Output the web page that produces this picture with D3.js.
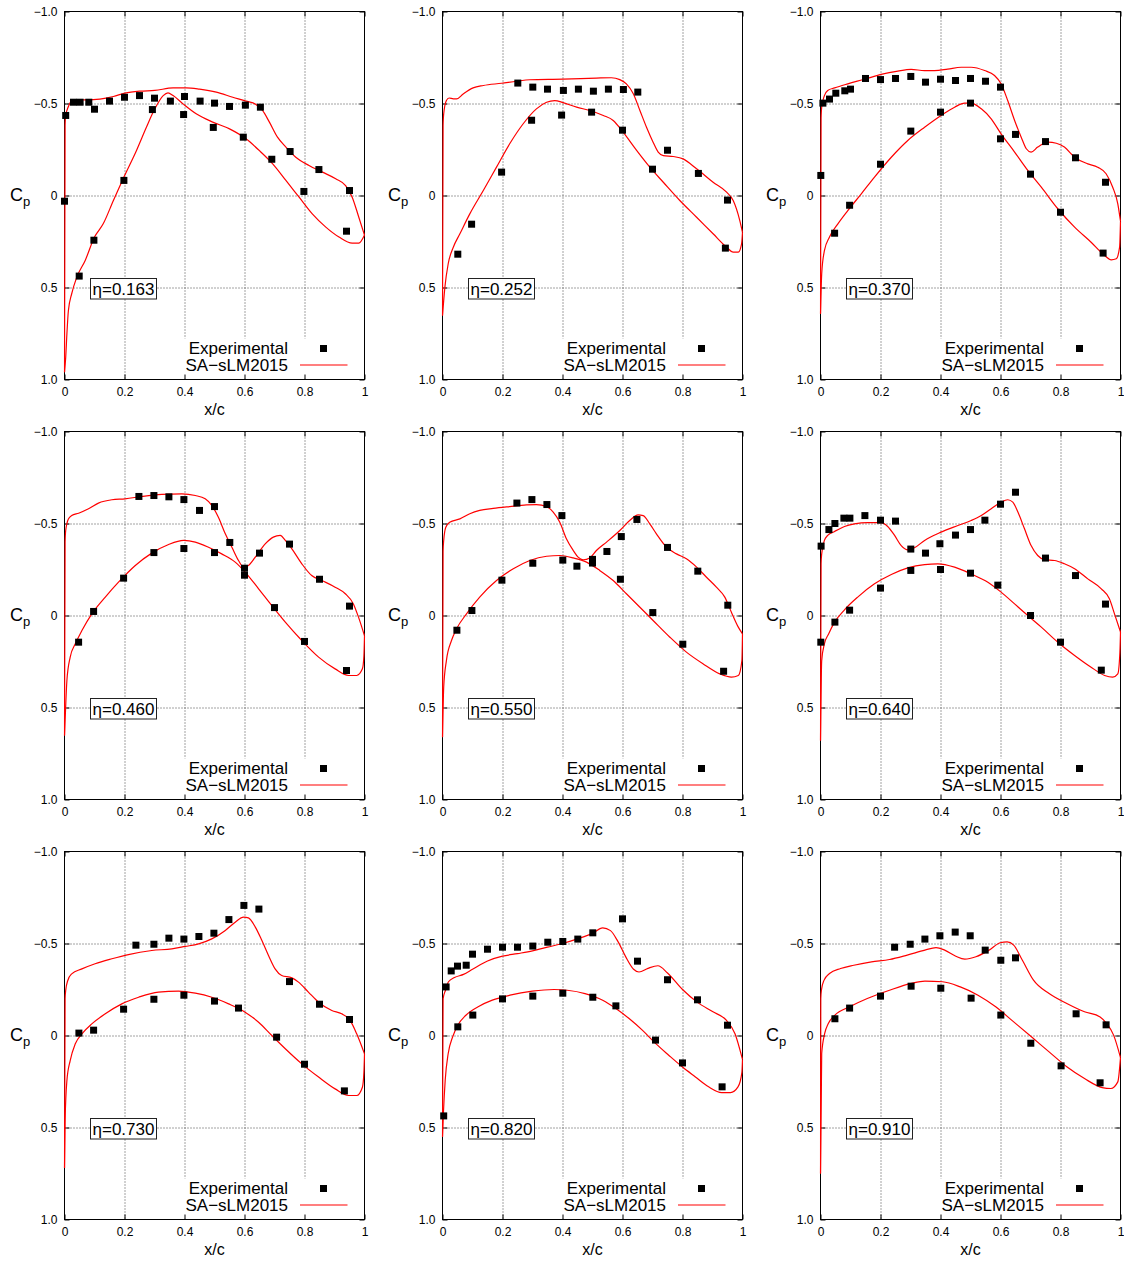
<!DOCTYPE html>
<html>
<head>
<meta charset="utf-8">
<script src="https://cdn.jsdelivr.net/npm/d3@7"></script>
<style>
  body { margin: 0; background: #fff; }
  svg { display: block; }
  text { font-family: "Liberation Sans", Arial, Helvetica, sans-serif; fill: #000; }
</style>
</head>
<body>
<svg id="chart" width="1124" height="1261"></svg>
<script>
// ---- Axis ticks and labels ----
const xTicks = [0, 0.2, 0.4, 0.6, 0.8, 1];
const xTickLabels = ["0", "0.2", "0.4", "0.6", "0.8", "1"];
const yTicks = [-1, -0.5, 0, 0.5, 1];
const yTickLabels = ["\u22121.0", "\u22120.5", "0", "0.5", "1.0"];
const xGrid = [0.2, 0.4, 0.6, 0.8];
const yGrid = [-0.5, 0, 0.5];
const legendLabels = ["Experimental", "SA\u2212sLM2015"];
const etaLabels = ["\u03b7=0.163", "\u03b7=0.252", "\u03b7=0.370", "\u03b7=0.460", "\u03b7=0.550",
                   "\u03b7=0.640", "\u03b7=0.730", "\u03b7=0.820", "\u03b7=0.910"];

// ---- eta = 0.163 ----
const exp163 = [[0.004,-0.435],[0.03,-0.507],[0.052,-0.507],[0.081,-0.507],[0.10,-0.469],[0.15,-0.513],[0.20,-0.534],[0.25,-0.543],[0.30,-0.529],[0.353,-0.513],[0.40,-0.538],[0.452,-0.513],[0.50,-0.502],[0.55,-0.484],[0.603,-0.491],[0.653,-0.48],[0.752,-0.239],[0.848,-0.141],[0.95,-0.027],
  [0.0,0.031],[0.049,0.438],[0.098,0.243],[0.198,-0.082],[0.293,-0.467],[0.397,-0.44],[0.496,-0.37],[0.596,-0.317],[0.691,-0.197],[0.798,-0.022],[0.94,0.194]];
const upper163 = [[0,0.96],[0.002,-0.38],[0.004,-0.435],[0.013,-0.484],[0.024,-0.513],[0.046,-0.52],[0.074,-0.52],[0.118,-0.524],[0.163,-0.538],[0.201,-0.556],[0.251,-0.567],[0.301,-0.571],[0.362,-0.585],[0.406,-0.585],[0.45,-0.578],[0.506,-0.562],[0.561,-0.534],[0.605,-0.513],[0.638,-0.495],[0.66,-0.462],[0.683,-0.399],[0.71,-0.317],[0.738,-0.263],[0.771,-0.208],[0.815,-0.163],[0.86,-0.127],[0.904,-0.091],[0.937,-0.054],[0.959,0.009],[0.981,0.118],[1.0,0.215]];
const lower163 = [[0,0.96],[0.004,0.88],[0.008,0.752],[0.013,0.625],[0.024,0.534],[0.041,0.444],[0.069,0.353],[0.1,0.226],[0.129,0.154],[0.163,0.027],[0.198,-0.1],[0.24,-0.245],[0.273,-0.371],[0.301,-0.471],[0.329,-0.543],[0.345,-0.558],[0.362,-0.543],[0.395,-0.498],[0.439,-0.444],[0.494,-0.399],[0.55,-0.362],[0.605,-0.308],[0.649,-0.245],[0.694,-0.172],[0.738,-0.082],[0.782,0.009],[0.826,0.1],[0.871,0.172],[0.915,0.226],[0.959,0.259],[0.981,0.259],[1.0,0.215]];

// ---- eta = 0.252 ----
const exp252 = [[0.251,-0.611],[0.301,-0.589],[0.35,-0.578],[0.403,-0.571],[0.453,-0.578],[0.503,-0.567],[0.553,-0.578],[0.603,-0.576],[0.651,-0.562],[0.75,-0.246],[0.853,-0.12],[0.95,0.025],
  [0.051,0.319],[0.097,0.156],[0.197,-0.127],[0.297,-0.409],[0.397,-0.437],[0.497,-0.453],[0.60,-0.355],[0.70,-0.143],[0.943,0.286]];
const upper252 = [[0,0.652],[0.002,-0.38],[0.004,-0.444],[0.013,-0.516],[0.022,-0.53],[0.036,-0.525],[0.047,-0.525],[0.069,-0.552],[0.102,-0.585],[0.136,-0.598],[0.197,-0.61],[0.247,-0.621],[0.291,-0.629],[0.402,-0.632],[0.513,-0.638],[0.563,-0.64],[0.591,-0.63],[0.613,-0.607],[0.636,-0.553],[0.658,-0.462],[0.680,-0.371],[0.702,-0.29],[0.719,-0.236],[0.736,-0.217],[0.769,-0.212],[0.802,-0.199],[0.847,-0.145],[0.902,-0.072],[0.947,-0.018],[0.969,0.027],[0.991,0.136],[1.0,0.2]];
const lower252 = [[0,0.652],[0.008,0.498],[0.019,0.371],[0.036,0.281],[0.058,0.208],[0.091,0.1],[0.136,-0.027],[0.18,-0.154],[0.224,-0.281],[0.269,-0.39],[0.313,-0.471],[0.347,-0.507],[0.374,-0.516],[0.402,-0.505],[0.447,-0.48],[0.491,-0.462],[0.536,-0.435],[0.569,-0.408],[0.602,-0.344],[0.647,-0.245],[0.691,-0.154],[0.736,-0.072],[0.791,0.027],[0.847,0.118],[0.902,0.208],[0.947,0.281],[0.969,0.308],[0.986,0.308],[0.997,0.263],[1.0,0.2]];

// ---- eta = 0.370 ----
const exp370 = [[0.008,-0.502],[0.03,-0.524],[0.051,-0.556],[0.081,-0.569],[0.10,-0.578],[0.15,-0.636],[0.20,-0.63],[0.25,-0.636],[0.301,-0.647],[0.35,-0.616],[0.40,-0.632],[0.45,-0.625],[0.50,-0.636],[0.55,-0.621],[0.60,-0.589],[0.65,-0.332],[0.75,-0.293],[0.85,-0.205],[0.95,-0.072],
  [0.001,-0.109],[0.047,0.205],[0.097,0.053],[0.20,-0.17],[0.301,-0.35],[0.40,-0.453],[0.50,-0.502],[0.60,-0.308],[0.70,-0.116],[0.80,0.091],[0.942,0.313]];
const upper370 = [[0,0.643],[0.002,-0.42],[0.004,-0.48],[0.013,-0.543],[0.024,-0.571],[0.047,-0.585],[0.091,-0.607],[0.147,-0.632],[0.202,-0.658],[0.258,-0.676],[0.302,-0.685],[0.347,-0.679],[0.38,-0.679],[0.424,-0.687],[0.469,-0.697],[0.502,-0.697],[0.547,-0.679],[0.58,-0.652],[0.602,-0.607],[0.624,-0.516],[0.647,-0.408],[0.669,-0.317],[0.686,-0.254],[0.702,-0.236],[0.724,-0.263],[0.758,-0.29],[0.786,-0.284],[0.813,-0.263],[0.847,-0.208],[0.891,-0.172],[0.924,-0.154],[0.952,-0.118],[0.974,-0.045],[0.991,0.045],[1.0,0.14]];
const lower370 = [[0,0.643],[0.004,0.426],[0.013,0.3],[0.03,0.226],[0.058,0.154],[0.091,0.082],[0.136,-0.009],[0.18,-0.1],[0.236,-0.208],[0.291,-0.299],[0.347,-0.371],[0.402,-0.435],[0.447,-0.48],[0.48,-0.502],[0.502,-0.502],[0.536,-0.471],[0.569,-0.417],[0.602,-0.335],[0.647,-0.236],[0.691,-0.136],[0.736,-0.045],[0.791,0.072],[0.847,0.172],[0.902,0.254],[0.947,0.326],[0.969,0.35],[0.986,0.344],[0.997,0.281],[1.0,0.14]];

// ---- eta = 0.460 ----
const exp460 = [[0.248,-0.647],[0.298,-0.652],[0.348,-0.645],[0.398,-0.63],[0.45,-0.571],[0.50,-0.592],[0.551,-0.397],[0.60,-0.257],[0.65,-0.339],[0.75,-0.388],[0.85,-0.197],[0.95,-0.051],
  [0.047,0.145],[0.097,-0.022],[0.197,-0.203],[0.298,-0.342],[0.398,-0.364],[0.50,-0.342],[0.60,-0.219],[0.70,-0.043],[0.80,0.141],[0.94,0.299]];
const upper460 = [[0,0.652],[0.002,-0.4],[0.004,-0.462],[0.013,-0.525],[0.024,-0.543],[0.047,-0.556],[0.08,-0.58],[0.113,-0.611],[0.158,-0.629],[0.202,-0.634],[0.258,-0.647],[0.324,-0.658],[0.391,-0.661],[0.436,-0.652],[0.469,-0.634],[0.491,-0.598],[0.513,-0.534],[0.536,-0.444],[0.558,-0.371],[0.58,-0.299],[0.597,-0.263],[0.613,-0.272],[0.636,-0.317],[0.669,-0.389],[0.696,-0.426],[0.719,-0.435],[0.736,-0.408],[0.758,-0.362],[0.791,-0.281],[0.824,-0.217],[0.858,-0.19],[0.902,-0.154],[0.936,-0.118],[0.963,-0.063],[0.98,0.009],[1.0,0.11]];
const lower460 = [[0,0.652],[0.002,0.571],[0.008,0.353],[0.019,0.226],[0.036,0.154],[0.058,0.082],[0.091,-0.009],[0.136,-0.1],[0.18,-0.181],[0.236,-0.272],[0.291,-0.339],[0.347,-0.386],[0.397,-0.408],[0.436,-0.399],[0.48,-0.371],[0.524,-0.335],[0.569,-0.29],[0.602,-0.236],[0.647,-0.145],[0.691,-0.054],[0.736,0.036],[0.791,0.136],[0.847,0.226],[0.902,0.29],[0.947,0.326],[0.974,0.326],[0.993,0.29],[0.998,0.22],[1.0,0.11]];

// ---- eta = 0.550 ----
const exp550 = [[0.248,-0.611],[0.298,-0.63],[0.348,-0.603],[0.398,-0.543],[0.50,-0.305],[0.548,-0.348],[0.596,-0.429],[0.648,-0.522],[0.75,-0.37],[0.851,-0.241],[0.951,-0.056],
  [0.048,0.08],[0.098,-0.027],[0.198,-0.192],[0.301,-0.284],[0.401,-0.301],[0.448,-0.268],[0.50,-0.285],[0.593,-0.197],[0.701,-0.016],[0.801,0.156],[0.937,0.303]];
const upper550 = [[0,0.661],[0.002,-0.35],[0.004,-0.408],[0.011,-0.48],[0.024,-0.507],[0.058,-0.525],[0.091,-0.553],[0.124,-0.571],[0.169,-0.582],[0.224,-0.592],[0.28,-0.601],[0.313,-0.603],[0.347,-0.592],[0.369,-0.562],[0.391,-0.507],[0.413,-0.417],[0.436,-0.353],[0.452,-0.317],[0.469,-0.303],[0.491,-0.313],[0.513,-0.353],[0.547,-0.399],[0.591,-0.462],[0.624,-0.516],[0.652,-0.547],[0.669,-0.543],[0.691,-0.498],[0.713,-0.444],[0.747,-0.371],[0.78,-0.335],[0.813,-0.308],[0.847,-0.263],[0.88,-0.208],[0.913,-0.154],[0.941,-0.1],[0.963,-0.018],[0.986,0.063],[1.0,0.1]];
const lower550 = [[0,0.661],[0.004,0.39],[0.013,0.245],[0.03,0.136],[0.047,0.072],[0.08,-0.009],[0.124,-0.1],[0.18,-0.19],[0.236,-0.254],[0.291,-0.299],[0.347,-0.322],[0.391,-0.326],[0.436,-0.313],[0.48,-0.29],[0.524,-0.245],[0.569,-0.19],[0.613,-0.118],[0.658,-0.045],[0.702,0.027],[0.758,0.118],[0.813,0.199],[0.869,0.263],[0.924,0.317],[0.963,0.335],[0.986,0.326],[0.998,0.245],[1.0,0.1]];

// ---- eta = 0.640 ----
const exp640 = [[0.002,-0.377],[0.028,-0.467],[0.048,-0.5],[0.078,-0.529],[0.098,-0.529],[0.148,-0.543],[0.20,-0.518],[0.25,-0.513],[0.301,-0.361],[0.35,-0.339],[0.398,-0.39],[0.45,-0.437],[0.50,-0.467],[0.548,-0.518],[0.60,-0.605],[0.65,-0.67],[0.75,-0.312],[0.85,-0.217],[0.95,-0.062],
  [0.001,0.145],[0.048,0.036],[0.097,-0.029],[0.20,-0.149],[0.301,-0.245],[0.40,-0.25],[0.50,-0.23],[0.591,-0.165],[0.70,0.0],[0.80,0.145],[0.936,0.297]];
const upper640 = [[0,0.679],[0.002,-0.28],[0.004,-0.335],[0.013,-0.408],[0.024,-0.435],[0.047,-0.457],[0.08,-0.484],[0.113,-0.498],[0.158,-0.505],[0.202,-0.505],[0.224,-0.484],[0.247,-0.435],[0.269,-0.38],[0.291,-0.357],[0.313,-0.368],[0.347,-0.408],[0.402,-0.453],[0.458,-0.489],[0.502,-0.516],[0.536,-0.543],[0.569,-0.58],[0.602,-0.616],[0.624,-0.629],[0.641,-0.616],[0.658,-0.562],[0.68,-0.471],[0.702,-0.38],[0.724,-0.326],[0.747,-0.303],[0.78,-0.299],[0.813,-0.281],[0.847,-0.254],[0.891,-0.199],[0.936,-0.145],[0.963,-0.091],[0.98,-0.009],[1.0,0.09]];
const lower640 = [[0,0.679],[0.004,0.245],[0.013,0.154],[0.027,0.1],[0.047,0.036],[0.08,-0.031],[0.124,-0.1],[0.18,-0.172],[0.236,-0.223],[0.291,-0.259],[0.347,-0.277],[0.391,-0.281],[0.447,-0.263],[0.502,-0.226],[0.558,-0.181],[0.602,-0.127],[0.647,-0.063],[0.691,0.0],[0.736,0.063],[0.791,0.145],[0.847,0.217],[0.902,0.281],[0.947,0.326],[0.974,0.335],[0.991,0.317],[0.998,0.2],[1.0,0.09]];

// ---- eta = 0.730 ----
const exp730 = [[0.238,-0.491],[0.298,-0.496],[0.348,-0.529],[0.398,-0.524],[0.448,-0.538],[0.498,-0.556],[0.548,-0.63],[0.598,-0.707],[0.648,-0.687],[0.75,-0.293],[0.85,-0.17],[0.95,-0.087],
  [0.048,-0.013],[0.097,-0.029],[0.197,-0.143],[0.298,-0.197],[0.398,-0.219],[0.50,-0.187],[0.58,-0.149],[0.707,0.009],[0.80,0.156],[0.933,0.301]];
const upper730 = [[0,0.72],[0.002,-0.2],[0.004,-0.245],[0.011,-0.299],[0.024,-0.335],[0.058,-0.362],[0.102,-0.39],[0.158,-0.417],[0.213,-0.44],[0.291,-0.462],[0.358,-0.471],[0.402,-0.484],[0.447,-0.498],[0.491,-0.525],[0.536,-0.571],[0.569,-0.616],[0.597,-0.643],[0.613,-0.639],[0.636,-0.589],[0.658,-0.516],[0.680,-0.435],[0.702,-0.362],[0.724,-0.326],[0.758,-0.313],[0.78,-0.29],[0.813,-0.236],[0.847,-0.181],[0.891,-0.136],[0.924,-0.118],[0.952,-0.082],[0.974,-0.009],[1.0,0.1]];
const lower730 = [[0,0.72],[0.002,0.462],[0.008,0.245],[0.019,0.136],[0.036,0.045],[0.058,-0.009],[0.091,-0.063],[0.136,-0.118],[0.191,-0.172],[0.247,-0.208],[0.313,-0.236],[0.38,-0.241],[0.436,-0.23],[0.491,-0.208],[0.547,-0.172],[0.602,-0.127],[0.647,-0.072],[0.691,0.0],[0.736,0.072],[0.791,0.154],[0.847,0.226],[0.902,0.29],[0.947,0.326],[0.974,0.326],[0.993,0.281],[0.998,0.2],[1.0,0.1]];

// ---- eta = 0.820 ----
const exp820 = [[0.012,-0.264],[0.029,-0.351],[0.05,-0.377],[0.079,-0.382],[0.10,-0.442],[0.15,-0.469],[0.20,-0.48],[0.25,-0.48],[0.301,-0.486],[0.351,-0.507],[0.401,-0.511],[0.451,-0.524],[0.501,-0.558],[0.60,-0.634],[0.65,-0.404],[0.75,-0.303],[0.85,-0.194],[0.95,-0.056],
  [0.004,0.437],[0.051,-0.047],[0.101,-0.111],[0.20,-0.199],[0.301,-0.214],[0.401,-0.23],[0.501,-0.208],[0.578,-0.161],[0.71,0.025],[0.80,0.149],[0.932,0.279]];
const upper820 = [[0,0.55],[0.002,-0.2],[0.01,-0.246],[0.02,-0.292],[0.04,-0.315],[0.07,-0.332],[0.1,-0.36],[0.15,-0.405],[0.2,-0.431],[0.25,-0.445],[0.3,-0.46],[0.35,-0.48],[0.4,-0.5],[0.45,-0.525],[0.5,-0.555],[0.534,-0.585],[0.56,-0.57],[0.585,-0.51],[0.61,-0.43],[0.637,-0.36],[0.655,-0.345],[0.685,-0.365],[0.718,-0.379],[0.75,-0.34],[0.8,-0.25],[0.85,-0.18],[0.9,-0.13],[0.946,-0.083],[0.975,-0.01],[1.0,0.13]];
const lower820 = [[0,0.55],[0.003,0.424],[0.009,0.243],[0.019,0.098],[0.034,0.007],[0.051,-0.056],[0.078,-0.11],[0.122,-0.159],[0.166,-0.192],[0.225,-0.219],[0.299,-0.241],[0.372,-0.25],[0.416,-0.246],[0.475,-0.228],[0.534,-0.192],[0.578,-0.147],[0.622,-0.092],[0.666,-0.029],[0.71,0.043],[0.754,0.107],[0.799,0.17],[0.843,0.225],[0.887,0.279],[0.931,0.31],[0.96,0.31],[0.985,0.279],[0.998,0.2],[1.0,0.13]];

// ---- eta = 0.910 ----
const exp910 = [[0.247,-0.48],[0.299,-0.496],[0.348,-0.524],[0.398,-0.542],[0.449,-0.562],[0.499,-0.542],[0.549,-0.464],[0.601,-0.409],[0.65,-0.422],[0.852,-0.118],[0.952,-0.058],
  [0.048,-0.091],[0.097,-0.149],[0.20,-0.214],[0.302,-0.268],[0.401,-0.257],[0.502,-0.203],[0.601,-0.111],[0.701,0.042],[0.802,0.165],[0.932,0.257]];
const upper910 = [[0,0.75],[0.001,-0.2],[0.003,-0.246],[0.012,-0.301],[0.03,-0.337],[0.067,-0.364],[0.111,-0.382],[0.17,-0.4],[0.23,-0.413],[0.289,-0.437],[0.348,-0.464],[0.385,-0.478],[0.414,-0.464],[0.451,-0.431],[0.481,-0.415],[0.518,-0.428],[0.562,-0.464],[0.599,-0.504],[0.622,-0.509],[0.644,-0.491],[0.673,-0.409],[0.71,-0.301],[0.762,-0.228],[0.821,-0.174],[0.88,-0.129],[0.932,-0.101],[0.954,-0.065],[0.977,-0.002],[1.0,0.12]];
const lower910 = [[0,0.75],[0.004,0.098],[0.014,-0.011],[0.026,-0.065],[0.048,-0.111],[0.097,-0.156],[0.156,-0.201],[0.23,-0.246],[0.303,-0.283],[0.348,-0.295],[0.407,-0.292],[0.466,-0.264],[0.525,-0.219],[0.584,-0.156],[0.644,-0.074],[0.703,0.007],[0.762,0.089],[0.821,0.17],[0.88,0.234],[0.939,0.283],[0.968,0.288],[0.991,0.252],[1.0,0.12]];

// Panel table, in reading order (left to right, top to bottom)
const panels = [
  { eta: etaLabels[0], exp: exp163, upper: upper163, lower: lower163 },
  { eta: etaLabels[1], exp: exp252, upper: upper252, lower: lower252 },
  { eta: etaLabels[2], exp: exp370, upper: upper370, lower: lower370 },
  { eta: etaLabels[3], exp: exp460, upper: upper460, lower: lower460 },
  { eta: etaLabels[4], exp: exp550, upper: upper550, lower: lower550 },
  { eta: etaLabels[5], exp: exp640, upper: upper640, lower: lower640 },
  { eta: etaLabels[6], exp: exp730, upper: upper730, lower: lower730 },
  { eta: etaLabels[7], exp: exp820, upper: upper820, lower: lower820 },
  { eta: etaLabels[8], exp: exp910, upper: upper910, lower: lower910 }
];

// ---- Layout ----
const W = 300, H = 368;
const colLeft = [64.5, 442.5, 820.5];
const rowTop = [11.5, 431.5, 851.5];
const RED = "#ff0000";
const svg = d3.select("#chart");

function drawPanel(p, i) {
  const ox = colLeft[i % 3], oy = rowTop[Math.floor(i / 3)];
  const g = svg.append("g").attr("transform", `translate(${ox},${oy})`);
  const x = d3.scaleLinear().domain([0, 1]).range([0, W]);
  const y = d3.scaleLinear().domain([-1, 1]).range([0, H]);
  const clipId = "clip" + i;
  g.append("clipPath").attr("id", clipId).append("rect")
    .attr("x", -1).attr("y", -1).attr("width", W + 2).attr("height", H + 2);

  // dotted grid
  const grid = g.append("g").attr("stroke", "#444").attr("stroke-width", 1)
    .attr("stroke-dasharray", "1,2");
  grid.selectAll(".vg").data(xGrid).join("line")
    .attr("x1", d => Math.round(x(d)) + 0.5).attr("x2", d => Math.round(x(d)) + 0.5)
    .attr("y1", 0).attr("y2", H);
  grid.selectAll(".hg").data(yGrid).join("line")
    .attr("y1", d => Math.round(y(d)) + 0.5).attr("y2", d => Math.round(y(d)) + 0.5)
    .attr("x1", 0).attr("x2", W);

  // opaque legend area
  g.append("rect").attr("x", 112).attr("y", 327).attr("width", W - 113).attr("height", H - 328)
    .attr("fill", "#fff");

  // axes with inward ticks on all four sides
  const styleAxis = sel => {
    sel.select(".domain").remove();
    sel.selectAll(".tick line").attr("stroke", "#000");
    sel.selectAll("text").style("font-family", '"Liberation Sans", Arial, sans-serif')
      .style("font-size", "12px").attr("fill", "#000");
  };
  g.append("g").call(d3.axisLeft(y).tickValues(yTicks).tickFormat((d, k) => yTickLabels[k])
    .tickSizeInner(-5).tickSizeOuter(0).tickPadding(7)).call(styleAxis);
  g.append("g").attr("transform", `translate(0,${H})`)
    .call(d3.axisBottom(x).tickValues(xTicks).tickFormat((d, k) => xTickLabels[k])
    .tickSizeInner(-5).tickSizeOuter(0).tickPadding(8)).call(styleAxis);
  g.append("g").call(d3.axisTop(x).tickValues(xTicks).tickFormat("")
    .tickSizeInner(-5).tickSizeOuter(0)).call(styleAxis);
  g.append("g").attr("transform", `translate(${W},0)`)
    .call(d3.axisRight(y).tickValues(yTicks).tickFormat("")
    .tickSizeInner(-5).tickSizeOuter(0)).call(styleAxis);

  // border
  g.append("rect").attr("width", W).attr("height", H)
    .attr("fill", "none").attr("stroke", "#000").attr("stroke-width", 1);

  // eta label box
  const eb = g.append("g").attr("transform", "translate(26,267)");
  eb.append("rect").attr("width", 66).attr("height", 20.5).attr("fill", "#fff")
    .attr("stroke", "#222").attr("stroke-width", 1);
  eb.append("text").attr("x", 33).attr("y", 16.5).attr("text-anchor", "middle")
    .style("font-size", "17px").text(p.eta);

  // axis titles
  g.append("text").attr("x", W / 2).attr("y", H + 35.5).attr("text-anchor", "middle")
    .style("font-size", "16px").text("x/c");
  const cp = g.append("text").attr("x", -54.5).attr("y", H / 2 + 5.5).style("font-size", "18px");
  cp.append("tspan").text("C");
  cp.append("tspan").attr("dy", 5).style("font-size", "13px").text("p");

  // simulation curves
  const line = d3.line().x(d => x(d[0])).y(d => y(d[1])).curve(d3.curveMonotoneX);
  const curves = g.append("g").attr("clip-path", `url(#${clipId})`);
  [p.upper, p.lower].forEach(c => {
    curves.append("path").attr("d", line(c)).attr("fill", "none")
      .attr("stroke", RED).attr("stroke-width", 1.2);
  });

  // experimental points
  const s = 7;
  g.append("g").selectAll("rect").data(p.exp).join("rect")
    .attr("x", d => x(d[0]) - s / 2).attr("y", d => y(d[1]) - s / 2)
    .attr("width", s).attr("height", s).attr("fill", "#000");

  // legend
  const lg = g.append("g");
  lg.append("text").attr("x", 223.5).attr("y", 342.5).attr("text-anchor", "end")
    .style("font-size", "17px").text(legendLabels[0]);
  lg.append("rect").attr("x", 259 - s / 2).attr("y", 337 - s / 2).attr("width", s).attr("height", s)
    .attr("fill", "#000");
  lg.append("text").attr("x", 223.5).attr("y", 359.5).attr("text-anchor", "end")
    .style("font-size", "17px").text(legendLabels[1]);
  lg.append("line").attr("x1", 235.5).attr("x2", 283).attr("y1", 353.5).attr("y2", 353.5)
    .attr("stroke", RED).attr("stroke-width", 1.2);
}

panels.forEach(drawPanel);
</script>
</body>
</html>
